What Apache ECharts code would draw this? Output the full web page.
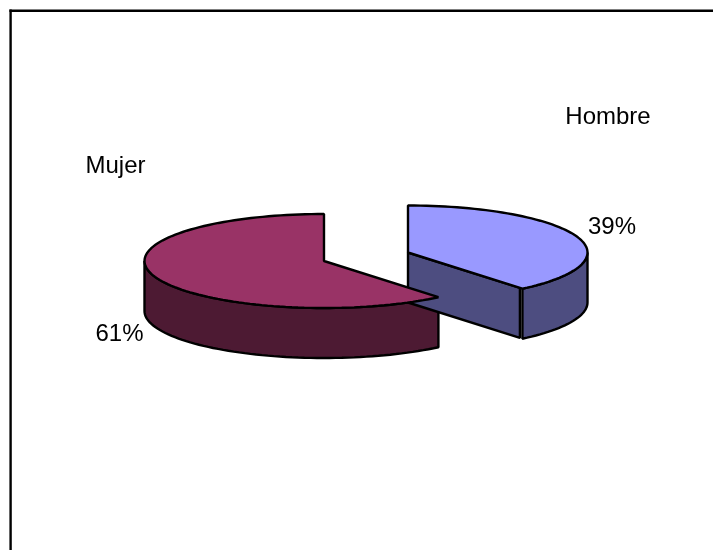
<!DOCTYPE html>
<html>
<head>
<meta charset="utf-8">
<style>html,body{margin:0;padding:0;background:#fff}#c{width:713px;height:550px}</style>
<script src="https://cdn.jsdelivr.net/npm/echarts@6/dist/echarts.min.js"></script>
</head>
<body>
<div id="c"></div>
<script>
var categories = ['Hombre', 'Mujer'];
var values = [39, 61];

// layout and style, kept apart from the data
var centers = [[408, 252.5], [324, 261]];
var nameAnchors = [[608, 117], [115.5, 166]];
var valueAnchors = [[612, 227.5], [119.5, 334.5]];
var topColors = ['#9999FF', '#993366'];
var wallColors = ['#4D4D80', '#4D1A33'];
var rx = 179.5, ry = 47, depth = 50;

var total = values.reduce(function (a, b) { return a + b; }, 0);
function pt(c, deg, dy) {
  var r = deg * Math.PI / 180;
  return [c[0] + rx * Math.sin(r), c[1] - ry * Math.cos(r) + (dy || 0)];
}
function arc(c, from, to, dy) {
  var out = [], n = Math.max(2, Math.ceil(Math.abs(to - from) / 2));
  for (var i = 0; i <= n; i++) out.push(pt(c, from + (to - from) * i / n, dy));
  return out;
}
function poly(points, fill, z) {
  return {
    type: 'polygon', z2: z,
    shape: { points: points },
    style: { fill: fill, stroke: '#000', lineWidth: 2.4, lineJoin: 'bevel' }
  };
}
function label(text, at) {
  return {
    type: 'text', z2: 50,
    style: {
      text: text, x: at[0], y: at[1], align: 'center', verticalAlign: 'middle',
      font: '24px "Liberation Sans", Arial, sans-serif', fill: '#000'
    }
  };
}
function renderSlice(params, api) {
  var i = params.dataIndex;
  var start = 0;
  for (var k = 0; k < i; k++) start += values[k] / total * 360;
  var end = start + values[i] / total * 360;
  var c = centers[i], kids = [];
  // side wall on the part of the rim that faces the viewer
  var a = Math.max(start, 90), b = Math.min(end, 270);
  if (a < b) {
    kids.push(poly(arc(c, a, b, 0).concat(arc(c, b, a, depth)), wallColors[i], 1));
  }
  // cut face that turns toward the viewer (only the first slice's closing edge)
  if (end > 90 && end < 180) {
    var e = pt(c, end);
    var f = [e[0] - 2.5, e[1] - 0.8];
    kids.push(poly([c, f, [f[0], f[1] + depth], [c[0], c[1] + depth]], wallColors[i], 2));
  }
  // top surface
  kids.push(poly([c].concat(arc(c, start, end, 0)), topColors[i], 3));
  kids.push(label(categories[i], nameAnchors[i]));
  kids.push(label(Math.round(values[i] / total * 100) + '%', valueAnchors[i]));
  return { type: 'group', children: kids };
}

var chart = echarts.init(document.getElementById('c'), null, { renderer: 'canvas' });
chart.setOption({
  animation: false,
  backgroundColor: '#fff',
  graphic: [
    { type: 'rect', shape: { x: 9.4, y: 9.5, width: 704, height: 2.4 }, style: { fill: '#000' } },
    { type: 'rect', shape: { x: 9.4, y: 9.5, width: 2.4, height: 541 }, style: { fill: '#000' } }
  ],
  series: [{
    type: 'custom',
    coordinateSystem: 'none',
    silent: true,
    data: values,
    renderItem: renderSlice
  }]
});
</script>
</body>
</html>
